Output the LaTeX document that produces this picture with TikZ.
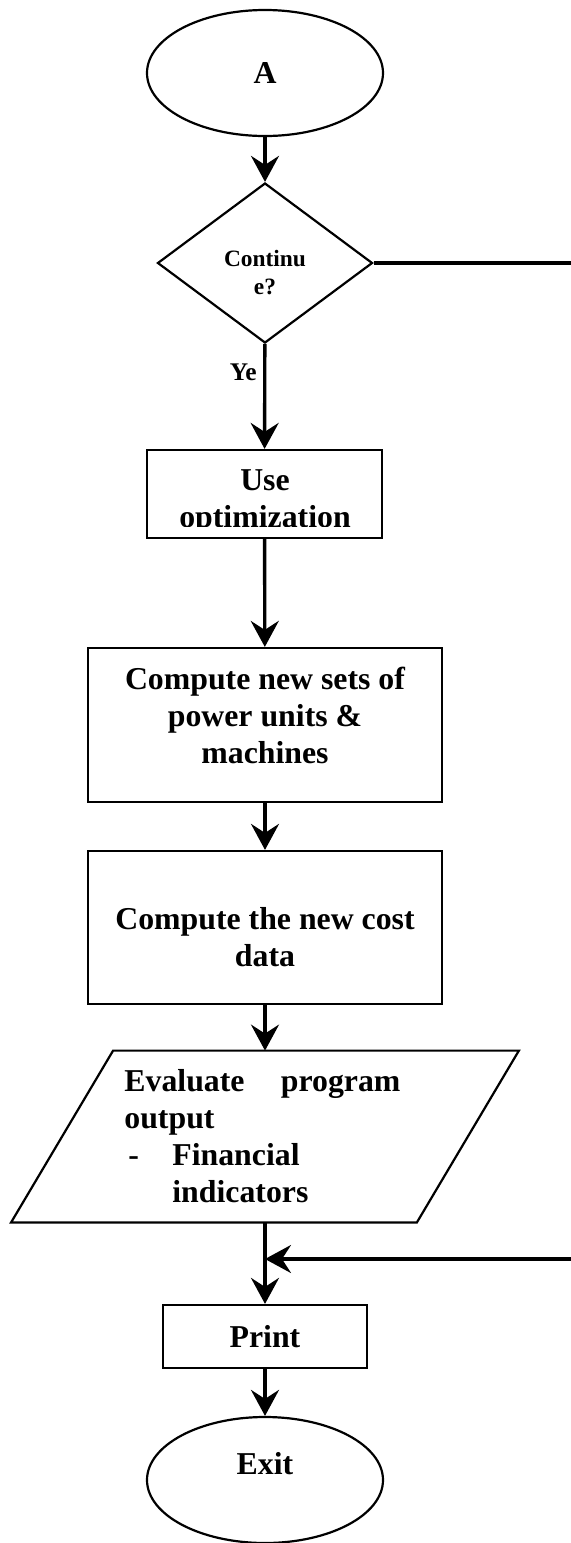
\documentclass[tikz,border=0pt]{standalone}
\usepackage{fontspec}
\setmainfont{Liberation Serif}
\usetikzlibrary{shapes.geometric,arrows.meta,calc}
\newlength\pxu
\setlength\pxu{0.5pt}
\newcommand\bigfont{\bfseries\fontsize{15.9pt}{18.5pt}\selectfont}
\newcommand\smallfont{\bfseries\fontsize{11.7pt}{14pt}\selectfont}
\tikzset{
  shapeline/.style={draw=black, line width=1.1pt},
  term/.style={shapeline, ellipse, minimum width=236\pxu, minimum height=126\pxu, inner sep=0pt, font=\bigfont},
  procbox/.style={shapeline, rectangle, inner sep=0pt, align=center, font=\bigfont},
  decision/.style={shapeline, diamond, minimum width=215\pxu, minimum height=160\pxu, inner sep=0pt},
  txt/.style={inner sep=0pt, font=\bigfont, align=center},
  conn/.style={line width=1.7pt},
  flow/.style={conn, -{Stealth[length=13pt, width=14pt, inset=4.5pt]}},
}
\begin{document}
\begin{tikzpicture}[x=0.5pt, y=-0.5pt]
\useasboundingbox (0,0) rectangle (571,1543);

% terminal A
\node[term] (A) at (265,73) {\raisebox{-3\pxu}{A}};

% decision
\node[decision] (dec) at (265,263) {};
\node[txt, font=\smallfont] (dectxt) at (265,273) {Continu\\e?};
\coordinate (noexit) at (571,263);
\node[inner sep=0pt, font=\bfseries\fontsize{12.7pt}{14pt}\selectfont, anchor=base east] (ye) at (257,380) {Ye};

% use optimization
\node[procbox, minimum width=235\pxu, minimum height=88\pxu] (use) at (264.5,494) {};
\begin{scope}
  \clip (0,0) rectangle (571,526);
  \node[txt, anchor=base] (usetxt) at (265,490) {Use};
  \node[txt, anchor=base] (opttxt) at (265,527) {optimization};
\end{scope}

% compute boxes
\node[procbox, minimum width=354\pxu, minimum height=154\pxu] (comp1) at (265,725) {};
\node[txt] (comp1txt) at (265,715) {Compute new sets of\\power units \&\\machines};
\node[procbox, minimum width=354\pxu, minimum height=153\pxu] (comp2) at (265,927.5) {};
\node[txt] (comp2txt) at (265,937) {Compute the new cost\\data};

% evaluate (parallelogram)
\node[minimum width=405\pxu, minimum height=171\pxu, inner sep=0pt] (eval) at (265,1136.5) {};
\draw[shapeline] ([xshift=51\pxu]eval.north west) -- ([xshift=51\pxu]eval.north east)
  -- ([xshift=-51\pxu]eval.south east) -- ([xshift=-51\pxu]eval.south west) -- cycle;
\node[txt, anchor=north west, align=left] (evaltxt) at (124,1069) {%
  \makebox[276\pxu][l]{Evaluate\hfill program}\\
  output\\
  \hspace*{4\pxu}\makebox[44\pxu][l]{-}Financial\\
  \hspace*{48\pxu}indicators};

% print
\node[procbox, minimum width=204\pxu, minimum height=63\pxu] (print) at (265,1336.5) {Print};

% exit
\node[term] (exit) at (265,1480) {};
\node[txt] (exittxt) at (265,1464) {Exit};

\coordinate (back) at (571,1259);

% connectors
\draw[flow] (A) -- (dec);
\draw[conn] (dec.east) -- (noexit);
\draw[flow] (dec) -- (use);
\draw[flow] (use) -- (comp1);
\draw[flow] (comp1) -- (comp2);
\draw[flow] (comp2) -- (eval);
\draw[flow] (eval) -- (print);
\draw[flow] (back) -- (back -| print.north);
\draw[flow] (print) -- (exit);
\end{tikzpicture}
\end{document}
